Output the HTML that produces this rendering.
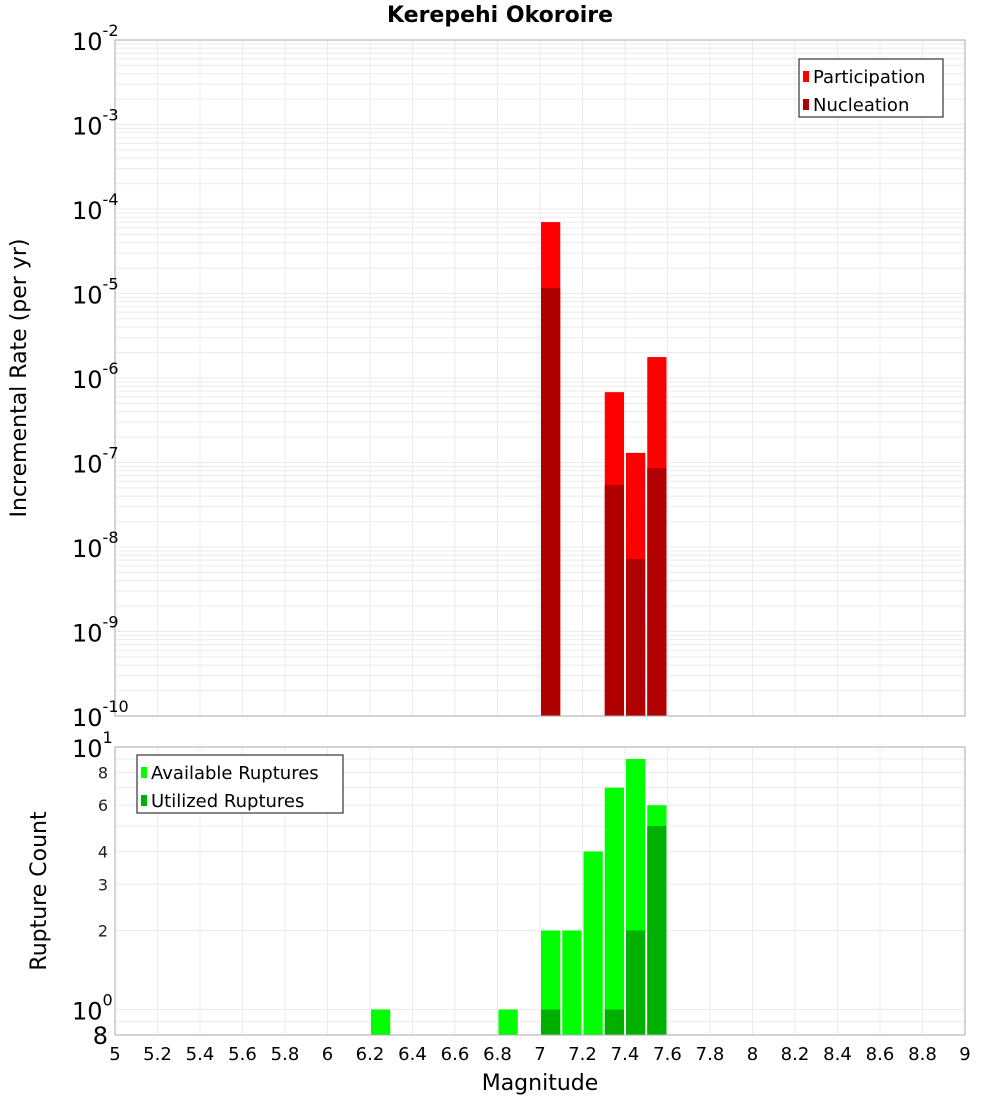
<!DOCTYPE html>
<html><head><meta charset="utf-8"><style>
body{margin:0;background:#fff;font-family:"DejaVu Sans","Liberation Sans",sans-serif}
</style></head><body>
<svg id="c" width="1000" height="1100" xmlns="http://www.w3.org/2000/svg" font-family="DejaVu Sans, Liberation Sans, sans-serif"></svg>
<script>
const binCenters=[7.05,7.35,7.45,7.55];
const participation=[7.0e-5,6.8e-7,1.3e-7,1.77e-6];
const nucleation=[1.16e-5,5.4e-8,7.2e-9,8.6e-8];
const countCenters=[6.25,6.85,7.05,7.15,7.25,7.35,7.45,7.55];
const available=[1,1,2,2,4,7,9,6];
const utilized=[0,0,1,0,0,1,2,5];
const xTicks=[5,5.2,5.4,5.6,5.8,6,6.2,6.4,6.6,6.8,7,7.2,7.4,7.6,7.8,8,8.2,8.4,8.6,8.8,9];
const topExps=[-2,-3,-4,-5,-6,-7,-8,-9,-10];
const botMinor=[8,6,4,3,2];

const svg=document.getElementById('c');
const NS='http://www.w3.org/2000/svg';
function mk(t,a,p,txt){const e=document.createElementNS(NS,t);for(const k in a)e.setAttribute(k,a[k]);if(txt!==undefined)e.textContent=txt;(p||svg).appendChild(e);return e;}
const L=115,R=965;
const x=v=>L+(v-5)/4*(R-L);
const T0=40,T1=716;
const yT=v=>T0+(-2-Math.log10(v))/8*(T1-T0);
const B0=747,B1=1035;
const yB=v=>B0+(1-Math.log10(v))/(1-Math.log10(0.8))*(B1-B0);

// title
let e=mk('text',{x:500,y:22,'text-anchor':'middle','font-size':22,'font-weight':'bold'},null,'Kerepehi Okoroire');


// top grid
const gT=mk('g',{});
for(let d=-10;d<-2;d++)for(let m=1;m<10;m++){const yy=yT(m*Math.pow(10,d));mk('line',{x1:L,x2:R,y1:yy,y2:yy,stroke:'#ebebeb','stroke-width':1},gT);}
xTicks.forEach(t=>mk('line',{x1:x(t),x2:x(t),y1:T0,y2:T1,stroke:'#ebebeb'},gT));
// bottom grid
const gB=mk('g',{});
[0.9,1,2,3,4,5,6,7,8,9].forEach(v=>mk('line',{x1:L,x2:R,y1:yB(v),y2:yB(v),stroke:'#ebebeb'},gB));
xTicks.forEach(t=>mk('line',{x1:x(t),x2:x(t),y1:B0,y2:B1,stroke:'#ebebeb'},gB));

// top bars
binCenters.forEach((c,i)=>{
 const x0=x(c-0.05)+1,w=x(c+0.05)-x(c-0.05)-2;
 let b=mk('rect',{x:x0,y:yT(participation[i]),width:w,height:T1-yT(participation[i]),fill:'#ff0000'});
 
 b=mk('rect',{x:x0,y:yT(nucleation[i]),width:w,height:T1-yT(nucleation[i]),fill:'#b00000'});
 
});
// bottom bars
countCenters.forEach((c,i)=>{
 const x0=x(c-0.05)+1,w=x(c+0.05)-x(c-0.05)-2;
 let b=mk('rect',{x:x0,y:yB(available[i]),width:w,height:B1-yB(available[i]),fill:'#00ff00'});
 
 if(utilized[i]>0){b=mk('rect',{x:x0,y:yB(utilized[i]),width:w,height:B1-yB(utilized[i]),fill:'#00b000'});
 }
});

// frames
mk('rect',{x:L,y:T0,width:R-L,height:T1-T0,fill:'none',stroke:'#aaa'});
mk('rect',{x:L,y:B0,width:R-L,height:B1-B0,fill:'none',stroke:'#aaa'});

// top y labels
topExps.forEach(p=>{const yy=yT(Math.pow(10,p));
 const t=mk('text',{x:72,y:yy+10,'font-size':24});
 t.textContent='10';mk('tspan',{dy:-14,'font-size':16},t,String(p));});
// bottom y labels
let t=mk('text',{x:72,y:yB(10)+10,'font-size':24},null,'10');mk('tspan',{dy:-14,'font-size':16},t,'1');

t=mk('text',{x:72,y:yB(1)+10,'font-size':24},null,'10');mk('tspan',{dy:-14,'font-size':16},t,'0');

t=mk('text',{x:108,y:yB(0.8)+9,'font-size':24,'text-anchor':'end'},null,'8');

botMinor.forEach(v=>{const q=mk('text',{x:108,y:yB(v)+6,'font-size':16,'text-anchor':'end',fill:'#222'},null,String(v));
 });
// x ticks
xTicks.forEach(v=>{const q=mk('text',{x:x(v),y:1060,'font-size':18,'text-anchor':'middle'},null,String(v));
 });
// axis titles
t=mk('text',{x:540,y:1090,'font-size':22,'text-anchor':'middle'},null,'Magnitude');
t=mk('text',{x:0,y:0,'font-size':22,'text-anchor':'middle',transform:'translate(26,378) rotate(-90)'},null,'Incremental Rate (per yr)');
t=mk('text',{x:0,y:0,'font-size':22,'text-anchor':'middle',transform:'translate(46,891) rotate(-90)'},null,'Rupture Count');

// legends
function legend(x0,y0,w,items,name){const g=mk('g',{});
 mk('rect',{x:x0,y:y0,width:w,height:58,fill:'#fff',stroke:'#333','stroke-width':1.2},g);
 items.forEach((it,i)=>{mk('rect',{x:x0+4,y:y0+12+i*28,width:6,height:11,fill:it[1]},g);
 mk('text',{x:x0+14,y:y0+24+i*28,'font-size':18},g,it[0]);});}
legend(799,59,144,[['Participation','#ff0000'],['Nucleation','#b00000']],'top-legend');
legend(137,755,206,[['Available Ruptures','#00ff00'],['Utilized Ruptures','#00b000']],'bottom-legend');
</script>
</body></html>
